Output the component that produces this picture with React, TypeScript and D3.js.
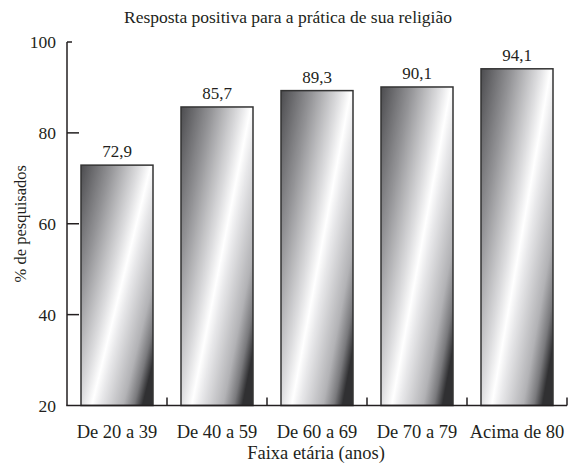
import React from "react";
import * as d3 from "d3";

const categories = ["De 20 a 39", "De 40 a 59", "De 60 a 69", "De 70 a 79", "Acima de 80"];
const values = [72.9, 85.7, 89.3, 90.1, 94.1];
const valueLabels = ["72,9", "85,7", "89,3", "90,1", "94,1"];
const yTicks = [20, 40, 60, 80, 100];
const title = "Resposta positiva para a prática de sua religião";
const xTitle = "Faixa etária (anos)";
const yTitle = "% de pesquisados";

const W = 574;
const H = 466;
const INK = "#231f20";
const FONT = "'Liberation Serif', serif";

export default function App() {
  const x = d3.scaleBand<string>().domain(categories).range([67, 567]).paddingInner(0.28).paddingOuter(0.14);
  const y = d3.scaleLinear().domain([20, 100]).range([405.5, 42]);
  const step = x.step();

  return (
    <svg width={W} height={H} style={{ position: "absolute", left: 0, top: 0, fontFamily: FONT }}>
      <defs>
        {/* metallic shading with a diagonal highlight */}
        <linearGradient id="barShade" x1="0" y1="0" x2="1" y2="0.82">
          <stop offset="0" stopColor="#4c4c4f" />
          <stop offset="0.25" stopColor="#939396" />
          <stop offset="0.48" stopColor="#dcdcde" />
          <stop offset="0.58" stopColor="#ffffff" />
          <stop offset="0.65" stopColor="#e8e8ea" />
          <stop offset="0.84" stopColor="#b2b2b5" />
          <stop offset="0.93" stopColor="#7a7a7d" />
          <stop offset="1" stopColor="#303032" />
        </linearGradient>
      </defs>

      <text x={288} y={23} textAnchor="middle" fontSize={17.5} fill={INK}>{title}</text>

      {/* bars */}
      {values.map((v, i) => {
        const x0 = x(categories[i])!;
        return (
          <g key={categories[i]}>
            <rect x={x0} y={y(v)} width={x.bandwidth()} height={y(20) - y(v)}
              fill="url(#barShade)" stroke="#333" strokeWidth={1.5} />
            <text x={x0 + x.bandwidth() / 2} y={y(v) - 8} textAnchor="middle" fontSize={17} fill={INK}>
              {valueLabels[i]}
            </text>
          </g>
        );
      })}

      {/* y axis */}
      <line x1={67} x2={67} y1={y(100)} y2={y(20)} stroke={INK} strokeWidth={1.5} />
      {yTicks.map((t) => (
        <g key={t}>
          {t > 20 && <line x1={67} x2={t === 100 ? 72 : 79} y1={y(t)} y2={y(t)} stroke={INK} strokeWidth={1.5} />}
          <text x={56} y={y(t)} dy="0.35em" textAnchor="end" fontSize={17.5} fill={INK}>{t}</text>
        </g>
      ))}
      <text transform={`translate(26,${(y(20) + y(100)) / 2}) rotate(-90)`} textAnchor="middle" fontSize={16.5} fill={INK}>
        {yTitle}
      </text>

      {/* x axis */}
      <line x1={66.25} x2={567} y1={y(20)} y2={y(20)} stroke={INK} strokeWidth={1.5} />
      {categories.map((c, i) => {
        const bx = x(c)! - x.paddingOuter() * step + step;
        return <line key={"t" + i} x1={bx} x2={bx} y1={y(20)} y2={y(20) - 8} stroke={INK} strokeWidth={1.5} />;
      })}
      {categories.map((c) => (
        <text key={c} x={x(c)! + x.bandwidth() / 2} y={438} textAnchor="middle" fontSize={18.5} fill={INK}>{c}</text>
      ))}
      <text x={316} y={459} textAnchor="middle" fontSize={18.5} fill={INK}>{xTitle}</text>
    </svg>
  );
}
